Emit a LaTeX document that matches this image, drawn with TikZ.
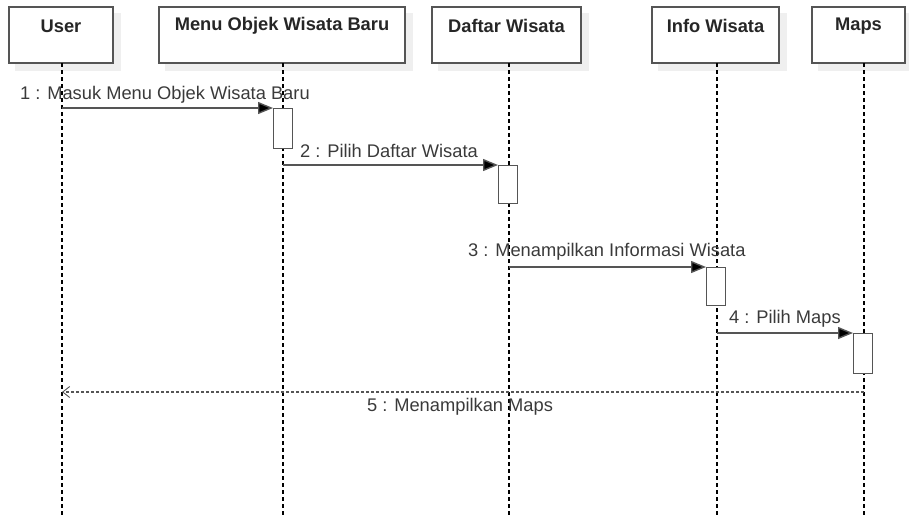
\documentclass[tikz,border=0pt]{standalone}
\usepackage{fontspec}
\setmainfont{Liberation Sans}
\usetikzlibrary{arrows.meta}
\definecolor{edge}{HTML}{555555}
\definecolor{txt}{HTML}{3A3A3A}
\definecolor{boxshadow}{HTML}{EFEFEF}
\begin{document}
\begin{tikzpicture}[x=1pt,y=-1pt,
  lifeline/.style={draw=black,line width=1.1pt,dash pattern=on 4pt off 3pt},
  actbox/.style={draw=edge,line width=1.3pt,fill=white,anchor=north west,inner sep=0pt,minimum width=19pt},
  msg/.style={draw=edge,line width=1.4pt,-{Triangle[length=15pt,width=12pt,fill=black]}},
  reply/.style={draw=edge,line width=1.3pt,dash pattern=on 3pt off 2pt,-{Straight Barb[length=7pt,width=11pt,line width=0.9pt]}},
  lbl/.style={text=txt,font=\fontsize{18.3}{20}\selectfont,inner sep=0pt},
  ttl/.style={text=black!85,font=\bfseries\fontsize{18.3}{20}\selectfont,inner sep=0pt}
]
\useasboundingbox (0,0) rectangle (909,515);

% object boxes with soft shadow
\foreach \n/\xa/\xb/\t in {user/9/113/User, menu/159/405/Menu Objek Wisata Baru, daftar/432/581/Daftar Wisata, info/652/779/Info Wisata, maps/812/905/Maps}{
  \fill[boxshadow] (\xa+6,13) rectangle (\xb+8,71);
  \draw[edge,line width=1.3pt,fill=white] (\xa,7) rectangle (\xb,63);
  \node[ttl] (\n) at ({(\xa+\xb)/2},26) {\t};
}

% lifelines
\coordinate (uT) at (62,63);   \coordinate (uB) at (62,515);
\coordinate (mT) at (283,63);  \coordinate (mB) at (283,515);
\coordinate (dT) at (509,63);  \coordinate (dB) at (509,515);
\coordinate (iT) at (717,63);  \coordinate (iB) at (717,515);
\coordinate (pT) at (864,63);  \coordinate (pB) at (864,515);
\foreach \a/\b in {uT/uB,mT/mB,dT/dB,iT/iB,pT/pB}{\draw[lifeline] (\a) -- (\b);}

% activation bars
\node[actbox,minimum height=40pt] (a1) at (273,108) {};
\node[actbox,minimum height=38pt] (a2) at (498,165) {};
\node[actbox,minimum height=38pt] (a3) at (706,267) {};
\node[actbox,minimum height=40pt] (a4) at (853,333) {};

% message origins
\coordinate (s1) at (62,108);
\coordinate (s2) at (283,165);
\coordinate (s3) at (509,267);
\coordinate (s4) at (717,333);
\coordinate (s5) at (864,392);
\coordinate (e5) at (62,392);

\draw[msg] (s1) -- (a1.north west);
\draw[msg] (s2) -- (a2.north west);
\draw[msg] (s3) -- (a3.north west);
\draw[msg] (s4) -- (a4.north west);
\draw[reply] (s5) -- (e5);

% message labels
\node[lbl,anchor=west] (l1) at (20,95) {1 : Masuk Menu Objek Wisata Baru};
\node[lbl,anchor=west] (l2) at (300,151) {2 : Pilih Daftar Wisata};
\node[lbl,anchor=west] (l3) at (468,252) {3 : Menampilkan Informasi Wisata};
\node[lbl,anchor=west] (l4) at (729,319) {4 : Pilih Maps};
\node[lbl,anchor=west] (l5) at (367,407) {5 : Menampilkan Maps};
\end{tikzpicture}
\end{document}
